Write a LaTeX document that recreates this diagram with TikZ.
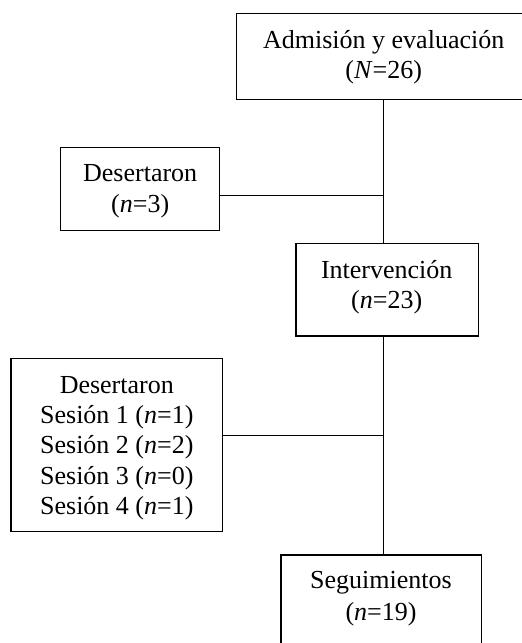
\documentclass[tikz,border=0pt]{standalone}
\usepackage{fontspec}
\setmainfont{Liberation Serif}
\begin{document}
\begin{tikzpicture}[x=1pt,y=-1pt,
  box/.style={draw,line width=1.2pt,inner sep=0pt},
  txt/.style={align=center,inner sep=0pt,font=\fontsize{26}{30.5}\selectfont},
  link/.style={line width=1.2pt}]
\useasboundingbox (0,0) rectangle (522,643);
\clip (0,0) rectangle (522,643);
% boxes
\node[box,minimum width=294pt,minimum height=86pt] (adm) at (383.7,56.3) {};
\node[box,minimum width=159pt,minimum height=83.4pt] (des1) at (140.2,189) {};
\node[box,minimum width=182.7pt,minimum height=92.7pt] (int) at (387.3,289.7) {};
\node[box,minimum width=211.7pt,minimum height=173pt] (des2) at (116.8,444.8) {};
\node[box,minimum width=200.7pt,minimum height=92.7pt] (seg) at (381.3,601.3) {};
% texts
\node[txt] (adm-t) at (383.7,57.2) {Admisión y evaluación\\(\textit{N}=26)};
\node[txt] (des1-t) at (140.2,191.5) {Desertaron\\(\textit{n}=3)};
\node[txt] (int-t) at (386.7,287.2) {Intervención\\(\textit{n}=23)};
\node[txt,font=\fontsize{26}{30.25}\selectfont] (des2-t) at (116.8,448.2)
  {Desertaron\\Sesión 1 (\textit{n}=1)\\Sesión 2 (\textit{n}=2)\\Sesión 3 (\textit{n}=0)\\Sesión 4 (\textit{n}=1)};
\node[txt,font=\fontsize{26}{31.5}\selectfont] (seg-t) at (381,598.5) {Seguimientos\\(\textit{n}=19)};
% connectors
\coordinate (j1) at (383.7,195.7);
\coordinate (j2) at (383.7,435.7);
\draw[link] (adm.south) -- (adm.south |- int.north);
\draw[link] (des1.east |- j1) -- (j1);
\draw[link] (j2 |- int.south) -- (j2 |- seg.north);
\draw[link] (des2.east |- j2) -- (j2);
\end{tikzpicture}
\end{document}
